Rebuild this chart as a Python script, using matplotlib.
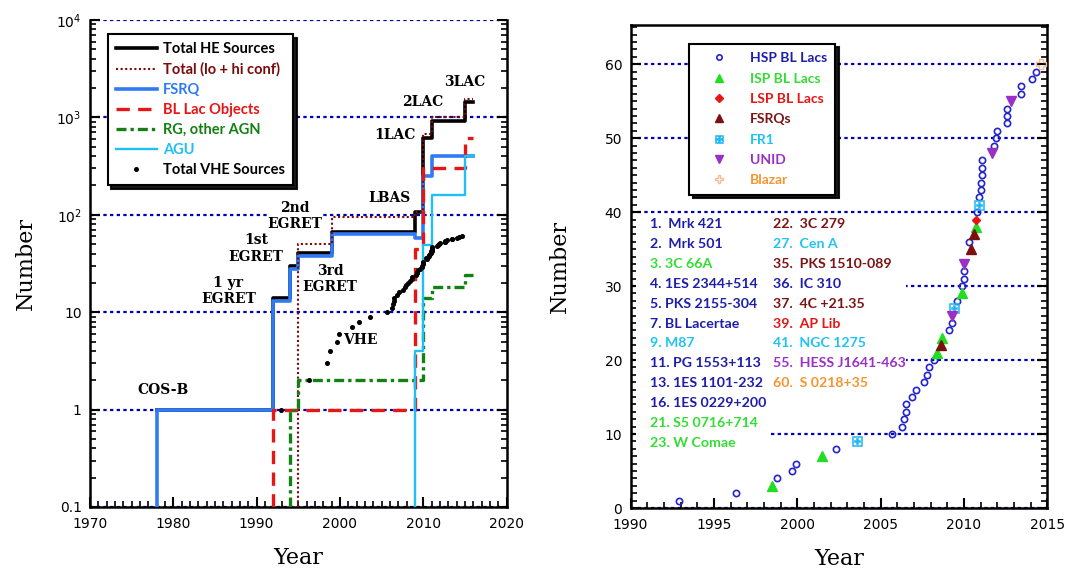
import numpy as np
import matplotlib.pyplot as plt
from matplotlib.patches import Rectangle
from matplotlib.ticker import LogLocator, MultipleLocator, FixedLocator, FixedFormatter, NullFormatter

# ---------------- left panel: catalogue histories (steps) ----------------
he_years = [1978, 1992, 1994, 1995, 1999, 2009, 2010, 2011, 2015, 2016]
he_total = [1, 14, 30, 41, 67, 107, 620, 910, 1450, 1450]

lohi_years = [1995, 1999, 2009, 2010, 2011, 2015, 2016]
lohi_total = [50, 94, 107, 680, 1000, 1560, 1560]

fsrq_years = [1978, 1992, 1994, 1995, 1999, 2009, 2010, 2011, 2016]
fsrq_vals = [1, 13, 28, 38, 64, 58, 250, 400, 400]

bll_years = [1992, 2009, 2010, 2015, 2016]
bll_vals = [1, 45, 300, 620, 620]

rg_years = [1994, 1995, 2010, 2011, 2015, 2016]
rg_vals = [1, 2, 14, 18, 24, 24]

agu_years = [2009, 2010, 2011, 2015, 2016]
agu_vals = [4, 49, 158, 400, 400]

# ---------------- VHE discoveries (right panel + dots on left) ----------------
vhe_num = [1, 2, 3, 4, 5, 6, 7, 8, 9, 10, 11, 12, 13, 14, 15, 16, 17, 18, 19, 20,
           21, 22, 23, 24, 25, 26, 27, 28, 29, 30, 31, 32, 33, 35, 36, 37, 38, 39, 40,
           41, 42, 43, 44, 45, 46, 47, 48, 49, 50, 51, 52, 53, 54, 55, 56, 57, 58, 59, 60]
vhe_year = [1992.9, 1996.3, 1998.5, 1998.8, 1999.7, 1999.9, 2001.5, 2002.3, 2003.6, 2005.7,
            2006.3, 2006.4, 2006.5, 2006.5, 2006.9, 2007.1, 2007.6, 2007.8, 2007.9, 2008.2,
            2008.4, 2008.6, 2008.7, 2009.1, 2009.3, 2009.3, 2009.4, 2009.6, 2009.9, 2009.9,
            2010.0, 2010.0, 2010.0, 2010.4, 2010.3, 2010.6, 2010.7, 2010.7, 2010.8,
            2010.9, 2010.9, 2011.0, 2011.0, 2011.1, 2011.1, 2011.1, 2011.7, 2011.8, 2011.9,
            2012.0, 2012.6, 2012.6, 2012.6, 2012.8, 2013.4, 2013.4, 2014.1, 2014.3, 2014.6]
vhe_type = ["HSP", "HSP", "ISP", "HSP", "HSP", "HSP", "ISP", "HSP", "FR1", "HSP",
            "HSP", "HSP", "HSP", "HSP", "HSP", "HSP", "HSP", "HSP", "HSP", "HSP",
            "ISP", "FSRQ", "ISP", "HSP", "HSP", "UNID", "FR1", "HSP", "ISP", "HSP",
            "HSP", "HSP", "UNID", "FSRQ", "HSP", "FSRQ", "ISP", "LSP", "HSP",
            "FR1", "HSP", "HSP", "HSP", "HSP", "HSP", "HSP", "UNID", "HSP", "HSP",
            "HSP", "HSP", "HSP", "HSP", "UNID", "HSP", "HSP", "HSP", "HSP", "Blazar"]

list_col1 = [("1.  Mrk 421", "HSP"), ("2.  Mrk 501", "HSP"), ("3. 3C 66A", "ISP"),
             ("4. 1ES 2344+514", "HSP"), ("5. PKS 2155-304", "HSP"), ("7. BL Lacertae", "HSP"),
             ("9. M87", "FR1"), ("11. PG 1553+113", "HSP"), ("13. 1ES 1101-232", "HSP"),
             ("16. 1ES 0229+200", "HSP"), ("21. S5 0716+714", "ISP"), ("23. W Comae", "ISP")]
list_col2 = [("22.  3C 279", "FSRQ"), ("27.  Cen A", "FR1"), ("35.  PKS 1510-089", "FSRQ"),
             ("36.  IC 310", "HSP"), ("37.  4C +21.35", "FSRQ"), ("39.  AP Lib", "LSP"),
             ("41.  NGC 1275", "FR1"), ("55.  HESS J1641-463", "UNID"), ("60.  S 0218+35", "Blazar")]

type_labels = {"HSP": "HSP BL Lacs", "ISP": "ISP BL Lacs", "LSP": "LSP BL Lacs",
               "FSRQ": "FSRQs", "FR1": "FR1", "UNID": "UNID", "Blazar": "Blazar"}
text_col = {"HSP": "#1E1EAA", "ISP": "#33DD33", "LSP": "#E81515", "FSRQ": "#7B1414",
            "FR1": "#1EC4F2", "UNID": "#9A30C8", "Blazar": "#F59530"}
mstyle = {"HSP": dict(marker="o", mfc="none", mec="#2424CC", ms=4.5, mew=1.2),
          "ISP": dict(marker="^", mfc="#22DD22", mec="#22DD22", ms=6.5),
          "LSP": dict(marker="D", mfc="#E81515", mec="#E81515", ms=4.5),
          "FSRQ": dict(marker="^", mfc="#7B1010", mec="#7B1010", ms=6.5),
          "FR1": dict(marker="$\\boxplus$", mfc="#1EB8F0", mec="#1EB8F0", ms=7.5, mew=0.4),
          "UNID": dict(marker="v", mfc="#9A30C8", mec="#9A30C8", ms=6.5),
          "Blazar": dict(marker="P", mfc="none", mec="#F5BE98", ms=7, mew=1.0)}
type_order = ["HSP", "ISP", "LSP", "FSRQ", "FR1", "UNID", "Blazar"]

GRID = dict(color="#0000B4", lw=1.6, ls=(0, (1.5, 1.5)), zorder=1)
SERIF = "DejaVu Serif"
LEG = "Lato"

plt.rcParams["font.family"] = "DejaVu Sans"
fig = plt.figure(figsize=(10.72, 5.73), dpi=100)
axL = fig.add_axes([90 / 1072, 66 / 573, 416.5 / 1072, 487 / 573])
axR = fig.add_axes([630.6 / 1072, 65 / 573, 416.7 / 1072, 483 / 573])

# ---------------- left panel ----------------
axL.set_yscale("log")
axL.set_xlim(1970, 2020)
axL.set_ylim(0.1, 1e4)
for v in [0.1, 1, 10, 100, 1000, 1e4]:
    axL.axhline(v, **GRID)

floor = 0.1
hHE, = axL.plot(he_years, he_total, drawstyle="steps-post", color="black", lw=2.6,
                zorder=3, label="Total HE Sources")
hLH, = axL.plot([lohi_years[0]] + lohi_years, [floor] + lohi_total, drawstyle="steps-post",
                color="#7B0A0A", lw=1.5, ls=(0, (1, 1.2)), zorder=5, label="Total (lo + hi conf)")
hFS, = axL.plot([fsrq_years[0]] + fsrq_years, [floor] + fsrq_vals, drawstyle="steps-post",
                color="#2F7BF5", lw=2.6, zorder=4, label="FSRQ")
hBL, = axL.plot([bll_years[0]] + bll_years, [floor] + bll_vals, drawstyle="steps-post",
                color="#E81515", lw=2.4, ls=(0, (4, 2.5)), zorder=6, label="BL Lac Objects")
hRG, = axL.plot([rg_years[0]] + rg_years, [floor] + rg_vals, drawstyle="steps-post",
                color="#138013", lw=2.4, ls=(0, (3, 1.2, 1, 1.2)), zorder=6, label="RG, other AGN")
hAG, = axL.plot([agu_years[0]] + agu_years, [floor] + agu_vals, drawstyle="steps-post",
                color="#1EC0F5", lw=1.7, zorder=7, label="AGU")
hVH, = axL.plot(vhe_year, vhe_num, ls="none", marker="o", ms=2.6, color="black",
                zorder=8, label="Total VHE Sources")

lab = dict(family=SERIF, fontweight="bold", fontsize=10, ha="center", va="center",
           zorder=9, bbox=dict(fc="white", ec="none", pad=0.5))
axL.text(1978.8, 1.6, "COS-B", **lab)
axL.text(1986.6, 16.6, "1 yr\nEGRET", **lab)
axL.text(1989.9, 45, "1st\nEGRET", **lab)
axL.text(1994.6, 98, "2nd\nEGRET", **lab)
axL.text(1998.8, 22, "3rd\nEGRET", **lab)
axL.text(2006.0, 150, "LBAS", **lab)
axL.text(2006.6, 665, "1LAC", **lab)
axL.text(2009.9, 1450, "2LAC", **lab)
axL.text(2015.0, 2290, "3LAC", **lab)
axL.text(2002.4, 5.2, "VHE", **lab)

axL.yaxis.set_major_locator(FixedLocator([0.1, 1, 10, 100, 1000, 1e4]))
axL.yaxis.set_major_formatter(FixedFormatter(["0.1", "1", "10", "$10^2$", "$10^3$", "$10^4$"]))
axL.yaxis.set_minor_locator(LogLocator(base=10, subs=np.arange(2, 10)))
axL.yaxis.set_minor_formatter(NullFormatter())
axL.xaxis.set_major_locator(MultipleLocator(10))
axL.xaxis.set_minor_locator(MultipleLocator(1))

leg = axL.legend(handles=[hHE, hLH, hFS, hBL, hRG, hAG, hVH], loc="upper left",
                 bbox_to_anchor=(0.043, 0.971), borderaxespad=0, fancybox=False,
                 edgecolor="black", framealpha=1, handlelength=2.8, handletextpad=0.45,
                 labelspacing=0.42, borderpad=0.55, markerscale=1.0,
                 labelcolor=["black", "#7B0A0A", "#2F7BF5", "#E81515", "#138013", "#1EC0F5", "black"],
                 prop=dict(family=LEG, weight="bold", size=10.5),
                 shadow={"color": "black", "alpha": 0.9, "ox": 2.5, "oy": -2.5})
leg.get_frame().set_linewidth(1.5)
leg.set_zorder(10)

axL.set_xlabel("Year", family=SERIF, fontsize=16, labelpad=12)
axL.set_ylabel("Number", family=SERIF, fontsize=16, labelpad=14)

# ---------------- right panel ----------------
axR.set_xlim(1990, 2015)
axR.set_ylim(0, 65.3)
for v in [0, 10, 20, 30, 40, 50, 60]:
    axR.axhline(v, **GRID)

vy = np.array(vhe_year)
vn = np.array(vhe_num)
vt = np.array(vhe_type)
handles = []
for t in type_order:
    m = vt == t
    h, = axR.plot(vy[m], vn[m], ls="none", zorder=5, label=type_labels[t], **mstyle[t])
    handles.append(h)

# white panels behind the source list
axR.add_patch(Rectangle((0.013, 0.116), 0.322, 0.493, transform=axR.transAxes,
                        fc="white", ec="none", zorder=2))
axR.add_patch(Rectangle((0.335, 0.236), 0.327, 0.373, transform=axR.transAxes,
                        fc="white", ec="none", zorder=2))
row0, drow = 224, 19.9
for i, (s, t) in enumerate(list_col1):
    axR.text(0.047, (508 - (row0 + i * drow)) / 483, s, transform=axR.transAxes,
             color=text_col[t], family=LEG, fontweight="bold", fontsize=10.2,
             ha="left", va="center", zorder=3)
for i, (s, t) in enumerate(list_col2):
    axR.text(0.342, (508 - (row0 + i * drow)) / 483, s, transform=axR.transAxes,
             color=text_col[t], family=LEG, fontweight="bold", fontsize=10.2,
             ha="left", va="center", zorder=3)

axR.xaxis.set_major_locator(MultipleLocator(5))
axR.xaxis.set_minor_locator(MultipleLocator(1))
axR.yaxis.set_major_locator(FixedLocator([0, 10, 20, 30, 40, 50, 60]))
axR.yaxis.set_minor_locator(MultipleLocator(1))

legR = axR.legend(handles=handles, loc="upper left", bbox_to_anchor=(0.141, 0.961),
                  borderaxespad=0, fancybox=False, edgecolor="black", framealpha=1,
                  handlelength=3.0, handletextpad=0.75, labelspacing=0.6, borderpad=0.6,
                  numpoints=1, markerscale=0.85, labelcolor=[text_col[t] for t in type_order],
                  prop=dict(family=LEG, weight="bold", size=10),
                  shadow={"color": "black", "alpha": 0.9, "ox": 2.5, "oy": -2.5})
legR.get_frame().set_linewidth(1.5)
legR.set_zorder(10)

axR.set_xlabel("Year", family=SERIF, fontsize=16, labelpad=12)
axR.set_ylabel("Number", family=SERIF, fontsize=16, labelpad=24)

for ax in (axL, axR):
    for s in ["left", "right", "bottom"]:
        ax.spines[s].set_linewidth(1.8)
    ax.tick_params(which="both", direction="in", left=True, right=True, bottom=True,
                   top=False, labelsize=10)
    ax.tick_params(which="major", length=7, width=1.5)
    ax.tick_params(which="minor", length=4, width=1.2)
    ax.tick_params(axis="x", which="major", pad=7)
    ax.tick_params(axis="y", which="major", pad=6)
axL.spines["top"].set_visible(False)
axR.spines["top"].set_linewidth(1.8)

fig.savefig("out.png", dpi=100, facecolor="white")
